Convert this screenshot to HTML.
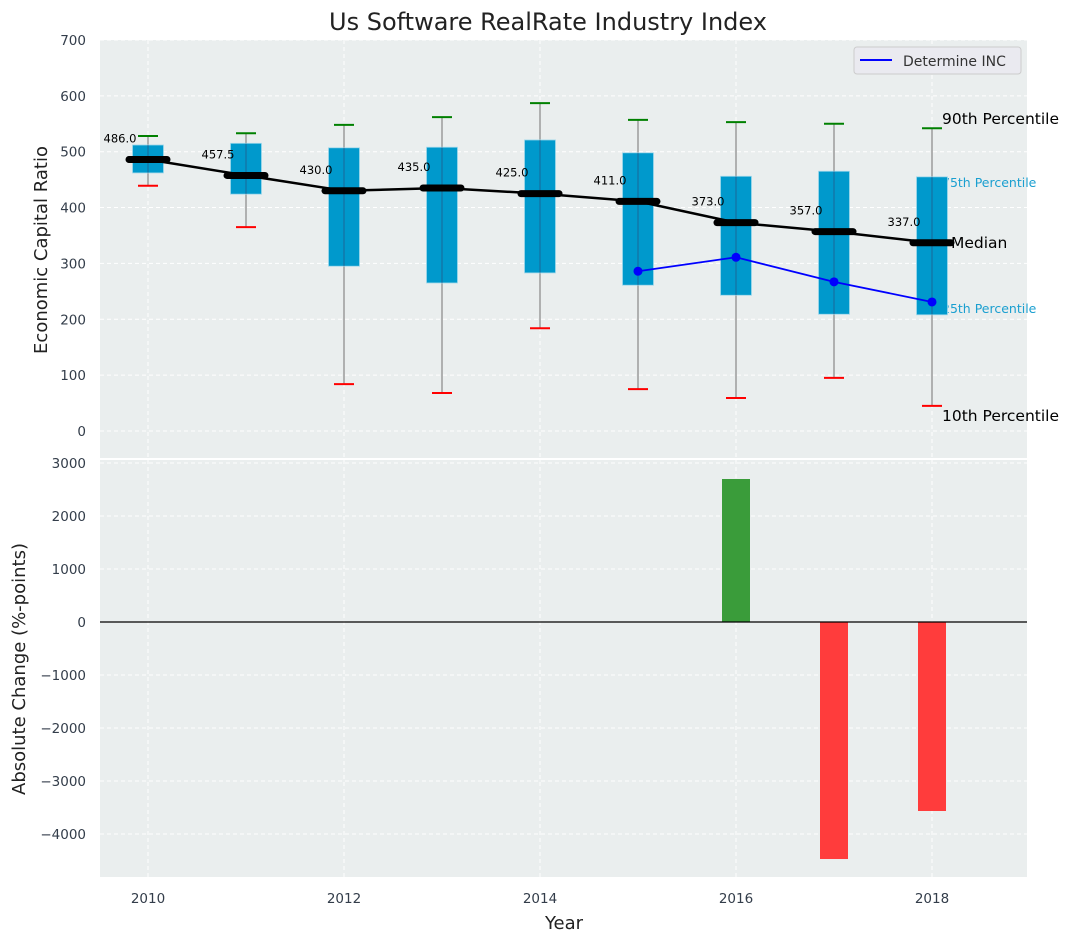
<!DOCTYPE html>
<html><head><meta charset="utf-8"><style>
body{margin:0;background:#fff;}
svg{font-family:"DejaVu Sans","Liberation Sans",sans-serif;}
</style></head><body>
<svg id="c" width="1077" height="942" xmlns="http://www.w3.org/2000/svg"></svg>
<script>
const years=[2010,2011,2012,2013,2014,2015,2016,2017,2018];
const p10=[439,365,84,68,184,75,59,95,45];
const q25=[462,424,295,265,283,261,243,209,208];
const medians=[486,457.5,430,435,425,411,373,357,337];
const q75=[512,515,507,508,521,498,456,465,455];
const p90=[528,533,548,562,587,557,553,550,542];
const incYears=[2015,2016,2017,2018];
const incValues=[286,311,267,231];
const changeYears=[2016,2017,2018];
const changeValues=[2698,-4472,-3566];
const topTicks=[0,100,200,300,400,500,600,700];
const botTicks=[-4000,-3000,-2000,-1000,0,1000,2000,3000];
const xTicks=[2010,2012,2014,2016,2018];

const NS='http://www.w3.org/2000/svg';
const svg=document.getElementById('c');
function el(t,a,p){const e=document.createElementNS(NS,t);for(const k in a)e.setAttribute(k,a[k]);(p||svg).appendChild(e);return e;}
const X0=100,X1=1027;
const x=v=>148+(v-2010)*98;
const yT=v=>431-v*0.5586;
const yB=v=>622-v*0.053;

let r=el('rect',{x:X0,y:40,width:X1-X0,height:418,fill:'#eaeeee'});

r=el('rect',{x:X0,y:460,width:X1-X0,height:417,fill:'#eaeeee'});


xTicks.forEach(v=>{
 el('line',{x1:x(v),x2:x(v),y1:40,y2:458,stroke:'#fff','stroke-dasharray':'4,3','stroke-width':1});
 el('line',{x1:x(v),x2:x(v),y1:460,y2:877,stroke:'#fff','stroke-dasharray':'4,3','stroke-width':1});
 const t=el('text',{x:x(v),y:903,'text-anchor':'middle','font-size':13.5,fill:'#333d4a'});t.textContent=v;
 
});
topTicks.forEach(v=>{
 el('line',{x1:X0,x2:X1,y1:yT(v),y2:yT(v),stroke:'#fff','stroke-dasharray':'4,3'});
 const t=el('text',{x:86,y:yT(v)+5,'text-anchor':'end','font-size':13.5,fill:'#333d4a'});t.textContent=v;
 
});
botTicks.forEach(v=>{
 el('line',{x1:X0,x2:X1,y1:yB(v),y2:yB(v),stroke:'#fff','stroke-dasharray':'4,3'});
 const t=el('text',{x:86,y:yB(v)+5,'text-anchor':'end','font-size':13.5,fill:'#333d4a'});t.textContent=String(v).replace('-','\u2212');
 
});

const ann=[[942,124,'90th Percentile','#000',15.5],[942,187,'75th Percentile','#1a9fd0',12.5],[951,248,'Median','#000',15.5],[942,313,'25th Percentile','#1a9fd0',12.5],[942,421,'10th Percentile','#000',15.5]];
ann.forEach(a=>{const t=el('text',{x:a[0],y:a[1],'font-size':a[4],fill:a[3]});t.textContent=a[2];
 });

years.forEach((yr,i)=>{
 const cx=x(yr);
 let l=el('line',{x1:cx,x2:cx,y1:yT(p90[i]),y2:yT(p10[i]),stroke:'#888','stroke-width':1.2});
 
 const b=el('rect',{x:cx-15.5,y:yT(q75[i]),width:31,height:yT(q25[i])-yT(q75[i]),fill:'#0099cc',stroke:'#9fd7ea','stroke-width':0.8});
 
 l=el('line',{x1:cx,x2:cx,y1:yT(q75[i]),y2:yT(q25[i]),stroke:'#336','stroke-opacity':0.5,'stroke-width':1});
 l=el('line',{x1:cx-10,x2:cx+10,y1:yT(p90[i]),y2:yT(p90[i]),stroke:'green','stroke-width':2});
 
 l=el('line',{x1:cx-10,x2:cx+10,y1:yT(p10[i]),y2:yT(p10[i]),stroke:'red','stroke-width':2});
 
});
let pl=el('polyline',{points:years.map((yr,i)=>x(yr)+','+yT(medians[i])).join(' '),fill:'none',stroke:'#000','stroke-width':2.5});

years.forEach((yr,i)=>{
 const l=el('line',{x1:x(yr)-19,x2:x(yr)+19,y1:yT(medians[i]),y2:yT(medians[i]),stroke:'#000','stroke-width':7,'stroke-linecap':'round'});
 
 const t=el('text',{x:x(yr)-28,y:yT(medians[i])-17,'text-anchor':'middle','font-size':11.5,fill:'#000'});t.textContent=medians[i].toFixed(1);
 
});
pl=el('polyline',{points:incYears.map((yr,i)=>x(yr)+','+yT(incValues[i])).join(' '),fill:'none',stroke:'#0000ff','stroke-width':1.8});

incYears.forEach((yr,i)=>{const c=el('circle',{cx:x(yr),cy:yT(incValues[i]),r:4.5,fill:'#0000ff'});
 });

changeYears.forEach((yr,i)=>{const v=changeValues[i];
 const b=el('rect',{x:x(yr)-14,y:Math.min(yB(v),yB(0)),width:28,height:Math.abs(yB(v)-yB(0)),fill:v>=0?'#3a9c3a':'#ff3c3c'});
 });
el('line',{x1:X0,x2:X1,y1:yB(0),y2:yB(0),stroke:'#000','stroke-width':1.2});

const g=el('g',{});
el('rect',{x:854,y:47,width:167,height:27,rx:3,fill:'#eaeaf0',stroke:'#ccc'},g);
el('line',{x1:860,x2:892,y1:60,y2:60,stroke:'#0000ff','stroke-width':2},g);
let t=el('text',{x:903,y:66,'font-size':14,fill:'#333'},g);t.textContent='Determine INC';

t=el('text',{x:548,y:30,'text-anchor':'middle','font-size':24,fill:'#222'});t.textContent='Us Software RealRate Industry Index';

t=el('text',{x:0,y:0,'text-anchor':'middle','font-size':18,fill:'#222',transform:'translate(47,250) rotate(-90)'});t.textContent='Economic Capital Ratio';

t=el('text',{x:0,y:0,'text-anchor':'middle','font-size':18,fill:'#222',transform:'translate(25,669) rotate(-90)'});t.textContent='Absolute Change (%-points)';

t=el('text',{x:564,y:929,'text-anchor':'middle','font-size':18,fill:'#222'});t.textContent='Year';

</script>
</body></html>
